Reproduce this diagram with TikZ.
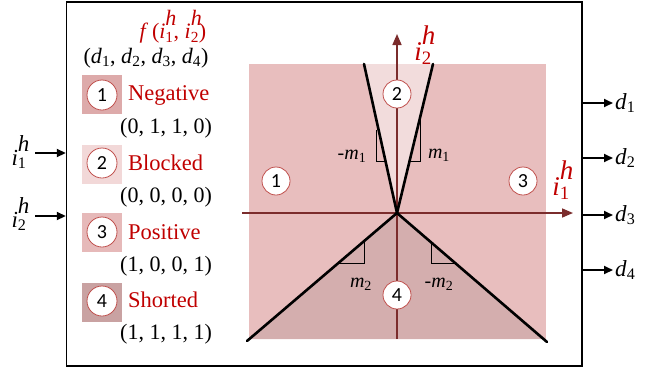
\documentclass[tikz,border=0pt]{standalone}
\usepackage{fontspec}
\setmainfont{Liberation Serif}
\newfontfamily\digfont{Carlito}
\usetikzlibrary{arrows.meta}
\definecolor{regmain}{HTML}{E8BEBE}
\definecolor{regpale}{HTML}{F2DCDC}
\definecolor{reglow}{HTML}{D4AEAE}
\definecolor{sqone}{HTML}{DDAAAA}
\definecolor{sqtwo}{HTML}{F2D8D8}
\definecolor{sqthree}{HTML}{E6B9B9}
\definecolor{sqfour}{HTML}{C9A2A2}
\definecolor{axiscol}{HTML}{7B2C2C}
\definecolor{txtred}{HTML}{C00000}
\definecolor{circred}{HTML}{C0504D}
\newcommand\ihv[1]{\textit{i}\rlap{\raisebox{0.6em}{\textit{h}}}\textsubscript{#1}}
\newcommand\dv[1]{\textit{d}\textsubscript{#1}}
\newcommand\mv[1]{\textit{m}\textsubscript{#1}}
\tikzset{
  num/.style={circle, draw=circred, line width=0.8pt, fill=white, minimum size=28pt, inner sep=0pt, font=\digfont\fontsize{20}{20}\selectfont},
  lnum/.style={num, minimum size=30pt},
  sq/.style={minimum width=40pt, minimum height=39pt, inner sep=0pt},
  lbl/.style={text=txtred, anchor=west, inner sep=0pt, font=\fontsize{22.5}{22.5}\selectfont},
  tup/.style={inner sep=0pt, font=\fontsize{22}{22}\selectfont},
  bline/.style={line width=2.6pt, line cap=round},
  axis/.style={axiscol, line width=1.6pt, -{Triangle[length=11pt,width=9pt]}},
  io/.style={line width=1.8pt, -{Triangle[length=9pt,width=8pt]}},
  slope/.style={line width=1pt},
  slbl/.style={inner sep=0pt, font=\fontsize{20}{20}\selectfont}
}
\begin{document}
\begin{tikzpicture}[x=1pt,y=-1pt]
\useasboundingbox (0,0) rectangle (658,370);
% frame
\node[draw, line width=1.4pt, minimum width=515.5pt, minimum height=364pt, inner sep=0pt] (frame) at (324.25,184) {};
% regions
\fill[regmain] (249,64) rectangle (546,339);
\fill[regpale] (397,213) -- (364,64) -- (433,64) -- cycle;
\fill[reglow] (397,213) -- (249.3,339) -- (546,339) -- cycle;
% axes
\coordinate (O) at (397,213);
\coordinate (xs) at (242,213);
\coordinate (xe) at (573,213);
\coordinate (ys) at (397,339);
\coordinate (ye) at (397,34);
\draw[axis] (xs) -- (xe);
\draw[axis] (ys) -- (ye);
% boundary lines
\coordinate (ul) at (364,64);
\coordinate (ur) at (433,64);
\coordinate (ll) at (247,341);
\coordinate (lr) at (547,342);
\draw[bline] (O) -- (ul);
\draw[bline] (O) -- (ur);
\draw[bline] (O) -- (ll);
\draw[bline] (O) -- (lr);
% slope marks
\draw[slope] (376.5,130) -- (376.5,161) -- (385.5,161);
\draw[slope] (420.5,116) -- (420.5,161) -- (409.5,161);
\draw[slope] (364,241.5) -- (364,263) -- (338.5,263);
\draw[slope] (431,241.5) -- (431,263) -- (456,263);
\node[slbl] (m1l) at (352,156) {-\mv{1}};
\node[slbl] (m1r) at (439,155) {\mv{1}};
\node[slbl] (m2l) at (361,284) {\mv{2}};
\node[slbl] (m2r) at (439,284) {-\mv{2}};
% region numbers
\node[num] (r2) at (397,94) {2};
\node[num] (r1) at (276,181) {1};
\node[num] (r3) at (523,181) {3};
\node[num] (r4) at (397,295) {4};
% axis labels
\node[text=txtred, inner sep=0pt, font=\fontsize{27}{27}\selectfont] (lx) at (561,180) {\ihv{1}};
\node[text=txtred, inner sep=0pt, font=\fontsize{27}{27}\selectfont] (ly) at (423,45) {\ihv{2}};
% legend header
\node[text=txtred, inner sep=0pt, font=\fontsize{22}{22}\selectfont] (fh) at (173,27) {\textit{f}\,(\ihv{1}, \ihv{2})};
\node[tup] (dh) at (146,58) {(\dv{1}, \dv{2}, \dv{3}, \dv{4})};
% legend entries
\node[sq, fill=sqone] (s1) at (102,94.5) {};
\node[lnum] (c1) at (102,95) {1};
\node[lbl] (t1) at (128,95) {Negative};
\node[tup] (v1) at (166,128) {(0, 1, 1, 0)};
\node[sq, fill=sqtwo] (s2) at (102,164) {};
\node[lnum] (c2) at (102,163) {2};
\node[lbl] (t2) at (128,163) {Blocked};
\node[tup] (v2) at (166,197) {(0, 0, 0, 0)};
\node[sq, fill=sqthree] (s3) at (102,232) {};
\node[lnum] (c3) at (102,232) {3};
\node[lbl] (t3) at (128,232) {Positive};
\node[tup] (v3) at (166,266) {(1, 0, 0, 1)};
\node[sq, fill=sqfour] (s4) at (102,302.5) {};
\node[lnum] (c4) at (102,301) {4};
\node[lbl] (t4) at (128,300) {Shorted};
\node[tup] (v4) at (166,334) {(1, 1, 1, 1)};
% inputs
\node[inner sep=0pt, font=\fontsize{23}{23}\selectfont] (in1) at (19,152) {\ihv{1}};
\node[inner sep=0pt, font=\fontsize{23}{23}\selectfont] (in2) at (19,214) {\ihv{2}};
\coordinate (a1) at (35,153);
\coordinate (a2) at (35,216);
\draw[io] (a1) -- (a1 -| frame.west);
\draw[io] (a2) -- (a2 -| frame.west);
% outputs
\foreach \k/\yy in {1/103, 2/158, 3/215, 4/270} {
  \coordinate (o\k) at (613,\yy);
  \draw[io] (o\k -| frame.east) -- (o\k);
  \node[inner sep=0pt, anchor=west, font=\fontsize{23}{23}\selectfont] (d\k) at (615,\yy) {\dv{\k}};
}
\end{tikzpicture}
\end{document}
